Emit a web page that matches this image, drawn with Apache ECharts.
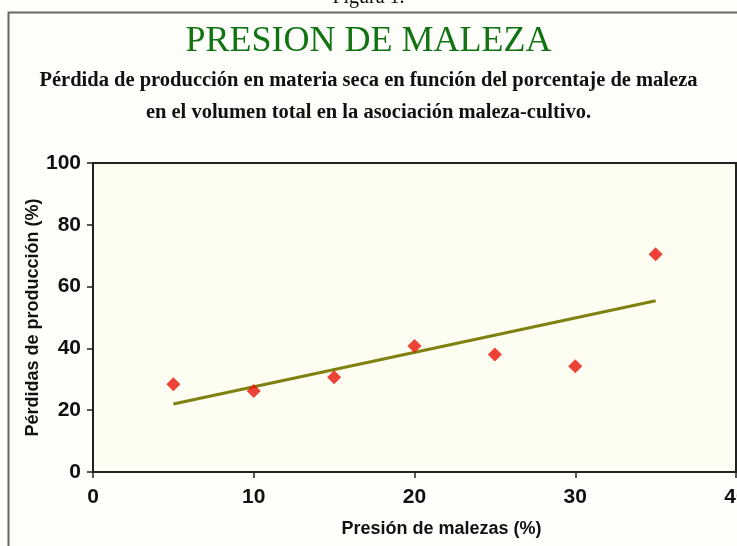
<!DOCTYPE html>
<html lang="es">
<head>
    <meta charset="UTF-8">
    <title>Presion de maleza</title>
    <script src="https://cdn.jsdelivr.net/npm/echarts@6/dist/echarts.min.js"></script>
    <style>
        html, body { margin: 0; padding: 0; background: #fefefb; }
        #chart { width: 737px; height: 546px; }
    </style>
</head>
<body>
<div id="chart"></div>
<script>
    // datos
    var presion = [5, 10, 15, 20, 25, 30, 35];
    var perdidas = [28.4, 26.2, 30.7, 40.8, 38.0, 34.2, 70.5];
    // recta de tendencia (extremos)
    var tendX = [5, 35];
    var tendY = [22.0, 55.4];
    var xTicks = [0, 10, 20, 30, 40];
    var yTicks = [0, 20, 40, 60, 80, 100];

    var puntos = presion.map(function (x, i) { return [x, perdidas[i]]; });
    var recta = tendX.map(function (x, i) { return [x, tendY[i]]; });

    var myChart = echarts.init(document.getElementById('chart'));
    var option = {
        backgroundColor: '#fefefb',
        animation: false,
        title: [{
            text: 'Figura 1.',
            left: 'center',
            top: -17,
            textStyle: { fontFamily: 'Liberation Serif', fontSize: 20, fontWeight: 'normal', color: '#111' }
        }, {
            text: 'PRESION DE MALEZA',
            left: 'center',
            top: 19,
            textStyle: { fontFamily: 'Liberation Serif', fontSize: 36, fontWeight: 'normal', color: '#127312' }
        }, {
            text: 'Pérdida de producción en materia seca en función del porcentaje de maleza',
            left: 'center',
            top: 65,
            textStyle: { fontFamily: 'Liberation Serif', fontSize: 20.5, fontWeight: 'bold', color: '#111' }
        }, {
            text: 'en el volumen total en la asociación maleza-cultivo.',
            left: 'center',
            top: 97,
            textStyle: { fontFamily: 'Liberation Serif', fontSize: 20.5, fontWeight: 'bold', color: '#111' }
        }],
        graphic: [{
            type: 'polyline',
            shape: { points: [[8.5, 546], [8.5, 12.5], [737, 12.5]] },
            style: { stroke: '#666', lineWidth: 2, fill: null }
        }],
        grid: {
            left: 93, right: 1, top: 163, bottom: 74,
            outerBoundsMode: 'none',
            containLabel: false,
            show: true,
            backgroundColor: '#fdfdf2',
            borderColor: '#222',
            borderWidth: 2
        },
        xAxis: {
            type: 'value',
            min: 0, max: 40, interval: 10,
            name: 'Presión de malezas (%)',
            nameLocation: 'middle',
            nameMoveOverlap: false,
            nameGap: 48,
            nameTextStyle: { fontFamily: 'Liberation Sans', fontSize: 18, fontWeight: 'bold', color: '#111', padding: [0, 0, 0, 54] },
            axisLine: { show: true, lineStyle: { color: '#222', width: 2 } },
            axisTick: { show: true, length: 6, lineStyle: { color: '#222', width: 1.5 } },
            axisLabel: {
                margin: 15,
                fontFamily: 'Liberation Sans', fontSize: 21, fontWeight: 'bold', color: '#111',
                formatter: function (v) { return xTicks.indexOf(v) >= 0 ? String(v) : ''; }
            },
            splitLine: { show: false }
        },
        yAxis: {
            type: 'value',
            min: 0, max: 100, interval: 20,
            name: 'Pérdidas de producción (%)',
            nameLocation: 'middle',
            nameMoveOverlap: false,
            nameGap: 51,
            nameTextStyle: { fontFamily: 'Liberation Sans', fontSize: 18, fontWeight: 'bold', color: '#111' },
            axisLine: { show: true, lineStyle: { color: '#222', width: 2 } },
            axisTick: { show: true, length: 6, lineStyle: { color: '#222', width: 1.5 } },
            axisLabel: {
                margin: 12,
                fontFamily: 'Liberation Sans', fontSize: 21, fontWeight: 'bold', color: '#111',
                formatter: function (v) { return yTicks.indexOf(v) >= 0 ? String(v) : ''; }
            },
            splitLine: { show: false }
        },
        series: [{
            name: 'tendencia',
            type: 'line',
            data: recta,
            symbol: 'none',
            lineStyle: { color: '#7f800f', width: 3 },
            z: 2
        }, {
            name: 'perdidas',
            type: 'scatter',
            data: puntos,
            symbol: 'diamond',
            symbolSize: 14,
            itemStyle: { color: '#ea1208' },
            z: 3
        }]
    };
    myChart.setOption(option);
</script>
</body>
</html>
